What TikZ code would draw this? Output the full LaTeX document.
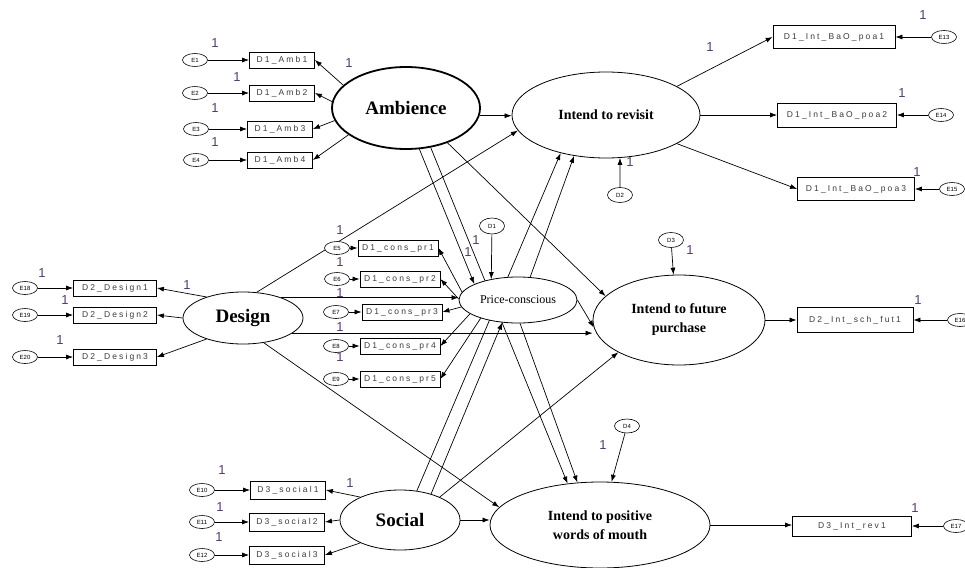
\documentclass[tikz,border=0pt]{standalone}
\usepackage{fontspec}
\setmainfont{Liberation Serif}
\newfontfamily\boxfont[LetterSpace=25]{Liberation Sans}
\newfontfamily\numfont{Liberation Sans}
\usetikzlibrary{arrows.meta,shapes.geometric}
\pgfdeclarelayer{bg}
\pgfsetlayers{bg,main}
\definecolor{onecol}{RGB}{85,60,105}
\definecolor{boxtext}{RGB}{60,60,60}
\begin{document}
\begin{tikzpicture}[x=1pt,y=-1pt,
 lat/.style={ellipse,draw,fill=white,inner sep=0pt,line width=0.8pt},
 big/.style={font=\bfseries\fontsize{19}{22}\selectfont},
 mid/.style={font=\bfseries\fontsize{14}{19}\selectfont,align=center},
 ind/.style={rectangle,draw,fill=white,inner sep=0pt,line width=0.8pt,text=boxtext,font=\boxfont\fontsize{8.5}{9}\selectfont},
 err/.style={ellipse,draw,fill=white,inner sep=0pt,minimum width=25pt,minimum height=13pt,line width=0.6pt,font=\numfont\fontsize{6}{6}\selectfont},
 one/.style={font=\numfont\fontsize{13}{13}\selectfont,text=onecol,inner sep=0pt},
 arr/.style={-{Latex[length=7pt,width=5pt]},line width=0.7pt},
]
\useasboundingbox (0,0) rectangle (965,567);
% latent variables
\node[lat,line width=1.8pt,minimum width=148pt,minimum height=82pt,big] (amb) at (406,108) {Ambience};
\node[lat,minimum width=188pt,minimum height=86pt,mid] (rev) at (606,115) {Intend to revisit};
\node[lat,minimum width=118pt,minimum height=46pt,font=\fontsize{12}{14}\selectfont] (pc) at (518,300) {Price-conscious};
\node[lat,minimum width=172pt,minimum height=90pt,mid] (fp) at (679,320) {Intend to future\\purchase};
\node[lat,minimum width=220pt,minimum height=86pt,mid] (wom) at (600,525) {Intend to positive\\words of mouth};
\node[lat,minimum width=120pt,minimum height=52pt,big] (des) at (243,318) {Design};
\node[lat,minimum width=120pt,minimum height=60pt,big] (soc) at (400,520) {Social};
% disturbances
\node[err,minimum height=16pt] (dd1) at (492,226) {D1};
\node[err,minimum height=15pt] (dd2) at (620,195) {D2};
\node[err,minimum height=15pt] (dd3) at (671,240) {D3};
\node[err,minimum height=14pt] (dd4) at (627,426) {D4};
% ambience indicators
\node[ind,minimum width=65pt,minimum height=16pt] (a1) at (282,60) {D1\_Amb1};
\node[ind,minimum width=65pt,minimum height=16pt] (a2) at (282,93) {D1\_Amb2};
\node[ind,minimum width=65pt,minimum height=16pt] (a3) at (280,129) {D1\_Amb3};
\node[ind,minimum width=65pt,minimum height=16pt] (a4) at (280,160) {D1\_Amb4};
\node[err] (e1) at (195,60) {E1};
\node[err] (e2) at (195,93) {E2};
\node[err] (e3) at (196,129) {E3};
\node[err] (e4) at (196,160) {E4};
% price-conscious indicators
\node[ind,minimum width=80pt,minimum height=16pt] (c1) at (398,248) {D1\_cons\_pr1};
\node[ind,minimum width=80pt,minimum height=16pt] (c2) at (400,279) {D1\_cons\_pr2};
\node[ind,minimum width=80pt,minimum height=16pt] (c3) at (402,312) {D1\_cons\_pr3};
\node[ind,minimum width=80pt,minimum height=16pt] (c4) at (400,346) {D1\_cons\_pr4};
\node[ind,minimum width=80pt,minimum height=16pt] (c5) at (400,379) {D1\_cons\_pr5};
\node[err] (e5) at (337,248) {E5};
\node[err] (e6) at (337,279) {E6};
\node[err] (e7) at (336,312) {E7};
\node[err] (e8) at (336,346) {E8};
\node[err] (e9) at (336,379) {E9};
% design indicators
\node[ind,minimum width=83pt,minimum height=16pt] (d1) at (115,288) {D2\_Design1};
\node[ind,minimum width=83pt,minimum height=16pt] (d2) at (115,315) {D2\_Design2};
\node[ind,minimum width=83pt,minimum height=16pt] (d3) at (115,357) {D2\_Design3};
\node[err] (e18) at (25,288) {E18};
\node[err] (e19) at (25,315) {E19};
\node[err] (e20) at (25,357) {E20};
% social indicators
\node[ind,minimum width=75pt,minimum height=18pt] (s1) at (288,490) {D3\_social1};
\node[ind,minimum width=75pt,minimum height=18pt] (s2) at (287,522) {D3\_social2};
\node[ind,minimum width=75pt,minimum height=18pt] (s3) at (287,555) {D3\_social3};
\node[err] (e10) at (202,490) {E10};
\node[err] (e11) at (202,522) {E11};
\node[err] (e12) at (202,555) {E12};
% outcome indicators
\node[ind,minimum width=122pt,minimum height=23pt] (r1) at (834,37) {D1\_Int\_BaO\_poa1};
\node[ind,minimum width=119pt,minimum height=24pt] (r2) at (837,115) {D1\_Int\_BaO\_poa2};
\node[ind,minimum width=117pt,minimum height=23pt] (r3) at (856,189) {D1\_Int\_BaO\_poa3};
\node[ind,minimum width=116pt,minimum height=25pt] (f1) at (855,320) {D2\_Int\_sch\_fut1};
\node[ind,minimum width=119pt,minimum height=20pt] (w1) at (852,526) {D3\_Int\_rev1};
\node[err] (e13) at (944,37) {E13};
\node[err] (e14) at (941,115) {E14};
\node[err] (e15) at (952,189) {E15};
\node[err] (e16) at (960,320) {E16};
\node[err] (e17) at (956,526) {E17};
% regression weight labels
\node[one] (l1) at (215,43) {1};
\node[one] (l2) at (237,77) {1};
\node[one] (l3) at (215,108) {1};
\node[one] (l4) at (215,142) {1};
\node[one] (l5) at (349,63) {1};
\node[one] (l6) at (710,47) {1};
\node[one] (l7) at (923,15) {1};
\node[one] (l8) at (902,93) {1};
\node[one] (l9) at (917,172) {1};
\node[one] (l10) at (630,162) {1};
\node[one] (l11) at (340,230) {1};
\node[one] (l12) at (340,262) {1};
\node[one] (l13) at (340,293) {1};
\node[one] (l14) at (340,327) {1};
\node[one] (l15) at (340,357) {1};
\node[one] (l16) at (476,240) {1};
\node[one] (l17) at (468,252) {1};
\node[one] (l18) at (42,273) {1};
\node[one] (l19) at (65,300) {1};
\node[one] (l20) at (60,340) {1};
\node[one] (l21) at (187,285) {1};
\node[one] (l22) at (690,250) {1};
\node[one] (l23) at (918,300) {1};
\node[one] (l24) at (222,470) {1};
\node[one] (l25) at (220,507) {1};
\node[one] (l26) at (219,537) {1};
\node[one] (l27) at (350,483) {1};
\node[one] (l28) at (603,445) {1};
\node[one] (l29) at (915,508) {1};

\begin{pgfonlayer}{bg}
% errors to indicators
\foreach \e/\b in {e1/a1,e2/a2,e3/a3,e4/a4,e5/c1,e6/c2,e7/c3,e8/c4,e9/c5,e18/d1,e19/d2,e20/d3,e10/s1,e11/s2,e12/s3,e13/r1,e14/r2,e15/r3,e16/f1,e17/w1}
  \draw[arr] (\e) -- (\b);
% loadings
\draw[arr] (amb.160) -- (a1.east);
\draw[arr] (amb.175) -- (a2.east);
\draw[arr] (amb.190) -- (a3.east);
\draw[arr] (amb.205) -- (a4.east);
\draw[arr] (pc.172) -- (c1.east);
\draw[arr] (pc.179) -- (c2.east);
\draw[arr] (pc.187) -- (c3.east);
\draw[arr] (pc.196) -- (c4.east);
\draw[arr] (pc.206) -- (c5.east);
\draw[arr] (des.150) -- (d1.east);
\draw[arr] (des.west) -- (d2.east);
\draw[arr] (des.210) -- (d3.east);
\draw[arr] (soc.150) -- (s1.east);
\draw[arr] (soc.west) -- (s2.east);
\draw[arr] (soc.210) -- (s3.east);
\draw[arr] (rev.22) -- (r1.west);
\draw[arr] (rev.east) -- (r2.west);
\draw[arr] (rev.-22) -- (r3.west);
\draw[arr] (fp.east) -- (f1.west);
\draw[arr] (wom.east) -- (wom.east -| w1.west);
% disturbances
\draw[arr] (dd1) -- (pc.142);
\draw[arr] (dd2) -- (rev.-72);
\draw[arr] (dd3) -- (fp.97);
\draw[arr] (dd4) -- (wom.75);
% structural paths
\draw[arr] (amb.-6) -- (amb.-6 -| rev.west);
\draw[arr] (amb.-72) -- (pc.160);
\draw[arr] (amb.-58) -- (wom.128);
\draw[arr] (amb.-40) -- (fp.162);
\draw[arr] (des.62) -- (rev.190);
\draw[arr] (des.28) -- (des.28 -| pc.west);
\draw[arr] (des.-17) -- (des.-17 -| fp.west);
\draw[arr] (des.-50) -- (wom.170);
\draw[arr] (soc.40) -- (pc.-125);
\draw[arr] (soc.60) -- (rev.-140);
\draw[arr] (soc.30) -- (fp.208);
\draw[arr] (soc.east) -- (soc.east -| wom.west);
\draw[arr] (pc.62) -- (rev.-128);
\draw[arr] (pc.0) -- (fp.185);
\draw[arr] (pc.-85) -- (wom.118);
\end{pgfonlayer}
\end{tikzpicture}
\end{document}
